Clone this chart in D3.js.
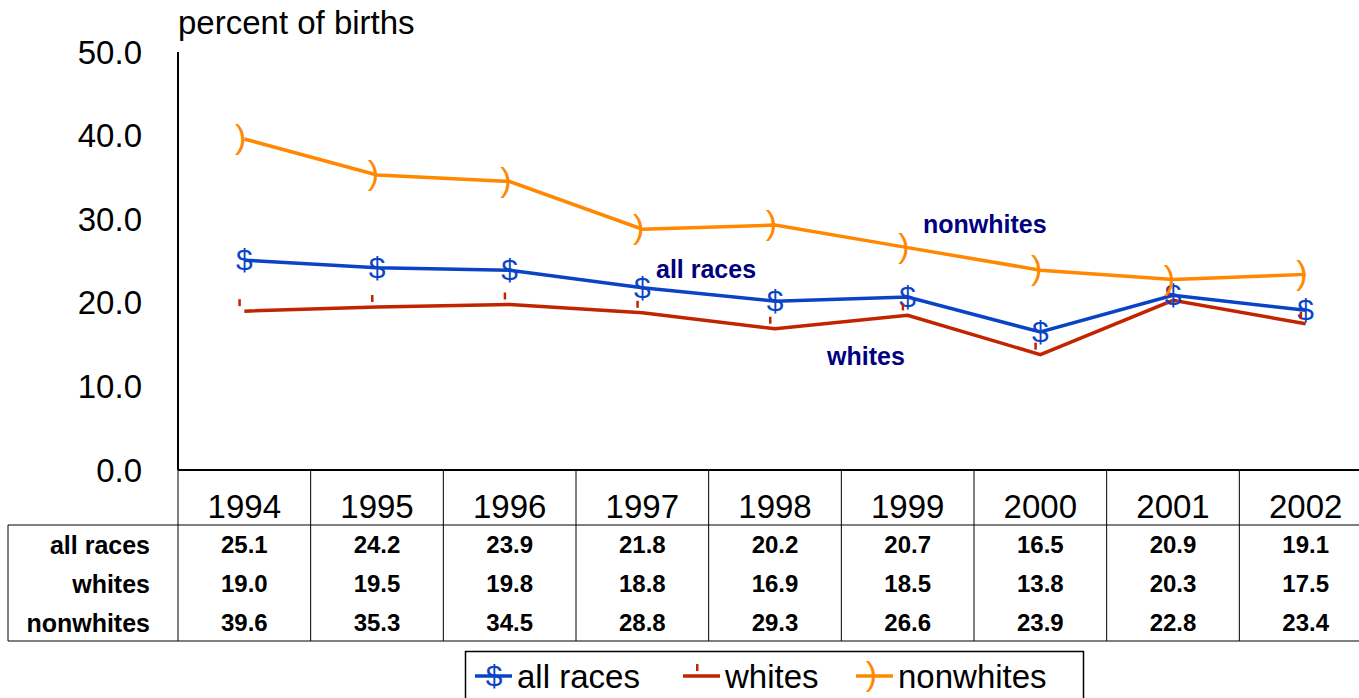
<!doctype html>
<html>
  <head>
    <style>
      body { margin: 0; background: white; font-family: Arial, 'Liberation Sans', sans-serif; }
    </style>
    <script src="https://d3js.org/d3.v7.min.js"></script>
  </head>
  <body>
    <svg id="chart" width="1359" height="698"></svg>
    <script>
      // data
      var years = ["1994","1995","1996","1997","1998","1999","2000","2001","2002"];
      var allRaces = [25.1, 24.2, 23.9, 21.8, 20.2, 20.7, 16.5, 20.9, 19.1];
      var whites = [19.0, 19.5, 19.8, 18.8, 16.9, 18.5, 13.8, 20.3, 17.5];
      var nonwhites = [39.6, 35.3, 34.5, 28.8, 29.3, 26.6, 23.9, 22.8, 23.4];
      var yTicks = [0, 10, 20, 30, 40, 50];
      var seriesNames = ["all races", "whites", "nonwhites"];

      var colors = { "all races": "#0a44c6", "whites": "#c22400", "nonwhites": "#ff8800" };
      var series = [
        { name: "all races", values: allRaces },
        { name: "whites", values: whites },
        { name: "nonwhites", values: nonwhites }
      ];

      var svg = d3.select("#chart");
      var plotLeft = 178, plotRight = 1372, plotTop = 52, plotBottom = 470;

      var x = d3.scaleBand().domain(years).range([plotLeft, plotRight]);
      var y = d3.scaleLinear().domain([0, 50]).range([plotBottom, plotTop]);
      var cx = function(d, i){ return x(years[i]) + x.bandwidth()/2; };

      // y axis
      svg.append("line").attr("x1", plotLeft).attr("x2", plotLeft)
        .attr("y1", plotTop).attr("y2", plotBottom).attr("stroke", "black").attr("stroke-width", 2);
      svg.selectAll(".ytick").data(yTicks).enter().append("text")
        .attr("x", 142).attr("y", function(d){ return y(d); })
        .attr("dy", "0.35em").attr("text-anchor", "end")
        .style("font-size", "33px").text(function(d){ return d.toFixed(1); });
      svg.append("text").attr("x", 178).attr("y", 34)
        .style("font-size", "33px").text("percent of births");

      // table grid
      var tableTop = plotBottom, headBottom = 525, tableBottom = 641;
      svg.append("line").attr("x1", plotLeft).attr("x2", 1359)
        .attr("y1", tableTop).attr("y2", tableTop).attr("stroke", "black").attr("stroke-width", 2);
      svg.append("line").attr("x1", 8).attr("x2", 1359)
        .attr("y1", headBottom).attr("y2", headBottom).attr("stroke", "black");
      svg.append("line").attr("x1", 8).attr("x2", 1359)
        .attr("y1", tableBottom).attr("y2", tableBottom).attr("stroke", "black");
      svg.append("line").attr("x1", 8).attr("x2", 8)
        .attr("y1", headBottom).attr("y2", tableBottom).attr("stroke", "black");
      svg.selectAll(".vgrid").data(years).enter().append("line")
        .attr("x1", function(d){ return x(d); }).attr("x2", function(d){ return x(d); })
        .attr("y1", tableTop).attr("y2", tableBottom).attr("stroke", "black");

      svg.selectAll(".year").data(years).enter().append("text")
        .attr("x", function(d){ return x(d) + x.bandwidth()/2; }).attr("y", 506)
        .attr("dy", "0.35em").attr("text-anchor", "middle")
        .style("font-size", "33px").text(function(d){ return d; });

      var rowY = [545, 584, 623];
      series.forEach(function(s, r){
        svg.append("text").attr("x", 150).attr("y", rowY[r]).attr("dy", "0.35em")
          .attr("text-anchor", "end").style("font-size", "25px").style("font-weight", "bold")
          .text(s.name);
        svg.selectAll(".cell" + r).data(s.values).enter().append("text")
          .attr("x", cx).attr("y", rowY[r]).attr("dy", "0.35em")
          .attr("text-anchor", "middle").style("font-size", "24px").style("font-weight", "bold")
          .text(function(d){ return d.toFixed(1); });
      });

      // lines
      var line = d3.line().x(cx).y(function(d){ return y(d); });
      series.forEach(function(s){
        svg.append("path").datum(s.values).attr("d", line)
          .attr("fill", "none").attr("stroke", colors[s.name]).attr("stroke-width", 3.5);
      });

      // markers
      function drawMarker(g, name, px, py){
        if (name === "all races") {
          g.append("text").attr("x", px).attr("y", py).attr("dy", "0.33em")
            .attr("text-anchor", "middle").attr("fill", colors[name])
            .style("font-size", "30px").text("$");
        } else if (name === "whites") {
          g.append("rect").attr("x", px - 6).attr("y", py - 12)
            .attr("width", 2.5).attr("height", 7).attr("fill", colors[name]);
        } else {
          g.append("text").attr("x", px + 2).attr("y", py).attr("dy", "0.27em")
            .attr("text-anchor", "end").attr("fill", colors[name])
            .style("font-size", "34px").text(")");
        }
      }
      series.forEach(function(s){
        s.values.forEach(function(v, i){ drawMarker(svg, s.name, cx(v, i), y(v)); });
      });

      // series labels
      var labels = [
        { text: "nonwhites", x: 923, y: 224 },
        { text: "all races", x: 656, y: 269 },
        { text: "whites", x: 827, y: 356 }
      ];
      svg.selectAll(".lbl").data(labels).enter().append("text")
        .attr("x", function(d){ return d.x; }).attr("y", function(d){ return d.y; })
        .attr("dy", "0.35em").attr("fill", "#000080")
        .style("font-size", "25px").style("font-weight", "bold").text(function(d){ return d.text; });

      // legend
      svg.append("rect").attr("x", 465.5).attr("y", 651.5).attr("width", 618).attr("height", 60)
        .attr("fill", "none").attr("stroke", "black").attr("stroke-width", 1.5);
      var legX = [475, 683, 856];
      seriesNames.forEach(function(n, i){
        var ly = 676;
        svg.append("line").attr("x1", legX[i]).attr("x2", legX[i] + 37)
          .attr("y1", ly).attr("y2", ly).attr("stroke", colors[n]).attr("stroke-width", 3.5);
        drawMarker(svg, n, legX[i] + 19, ly);
        svg.append("text").attr("x", legX[i] + 42).attr("y", ly).attr("dy", "0.35em")
          .style("font-size", "33px").text(n);
      });
    </script>
  </body>
</html>
